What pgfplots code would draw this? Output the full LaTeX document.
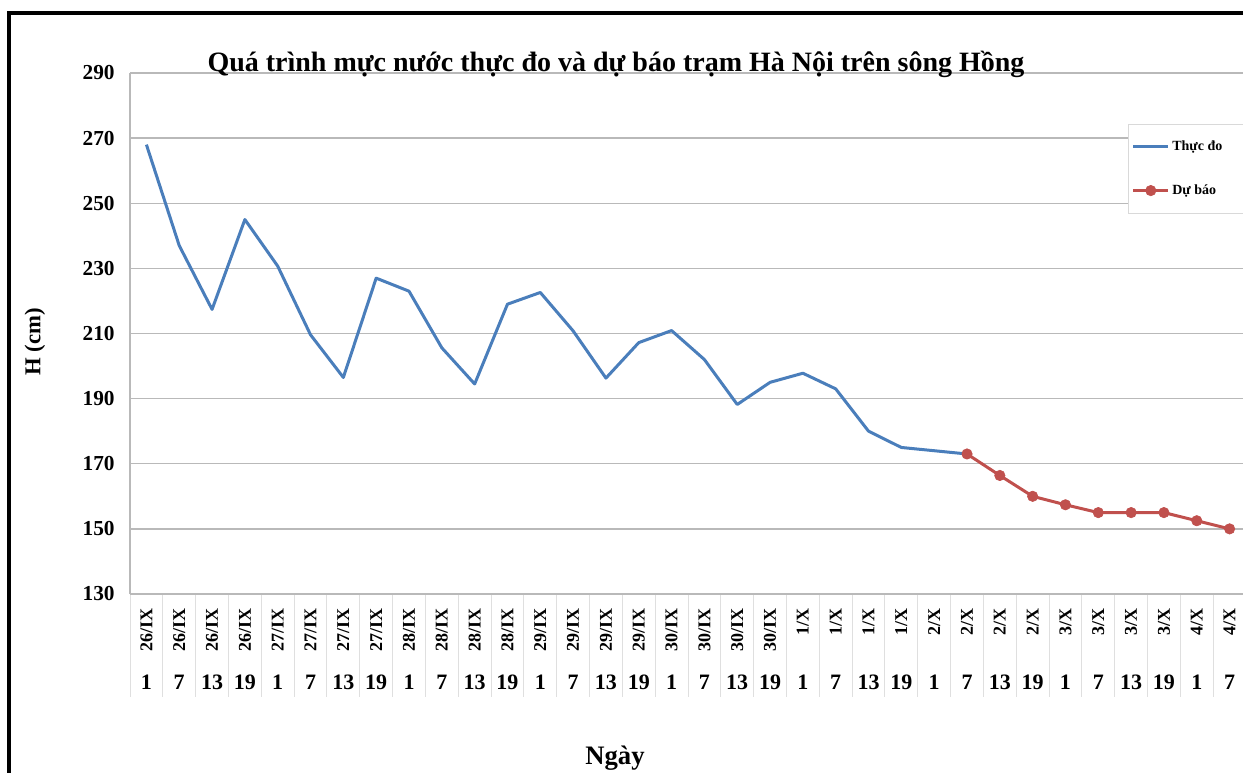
\documentclass[border=0pt]{standalone}
\usepackage{fontspec}
\setmainfont{Liberation Serif}
\usepackage{pgfplots}
\pgfplotsset{compat=1.18}
\definecolor{blueS}{RGB}{74,126,187}
\definecolor{redS}{RGB}{192,80,77}
\definecolor{gridG}{RGB}{185,185,185}
\pgfplotsset{
  legline/.style={legend image code/.code={\draw[##1] (0pt,0pt) -- (26pt,0pt);}},
  legmark/.style={legend image code/.code={\draw[##1, mark=none] (0pt,0pt) -- (26pt,0pt); \draw[##1] plot coordinates {(13pt,0pt)};}}
}
\newcommand{\tl}[2]{\rotatebox{90}{\makebox[36pt][r]{\fontsize{13.5}{13.5}\selectfont #1}}\\[8pt]#2}
\begin{document}
\begin{tikzpicture}
\useasboundingbox (0,0) rectangle (932.25pt,579pt);
\begin{axis}[
  at={(97.5pt,133.5pt)}, anchor=south west,
  scale only axis, width=837pt, height=390.75pt,
  xmin=-0.5, xmax=33.5, ymin=130, ymax=290,
  ytick={130,150,...,290},
  ymajorgrids, grid style={draw=gridG, line width=1pt},
  axis x line*=bottom, axis y line*=left,
  axis line style={draw=gridG, line width=1pt, -},
  xtick={0,...,33},
  xticklabels={\tl{26/IX}{1},\tl{26/IX}{7},\tl{26/IX}{13},\tl{26/IX}{19},
    \tl{27/IX}{1},\tl{27/IX}{7},\tl{27/IX}{13},\tl{27/IX}{19},
    \tl{28/IX}{1},\tl{28/IX}{7},\tl{28/IX}{13},\tl{28/IX}{19},
    \tl{29/IX}{1},\tl{29/IX}{7},\tl{29/IX}{13},\tl{29/IX}{19},
    \tl{30/IX}{1},\tl{30/IX}{7},\tl{30/IX}{13},\tl{30/IX}{19},
    \tl{1/X}{1},\tl{1/X}{7},\tl{1/X}{13},\tl{1/X}{19},
    \tl{2/X}{1},\tl{2/X}{7},\tl{2/X}{13},\tl{2/X}{19},
    \tl{3/X}{1},\tl{3/X}{7},\tl{3/X}{13},\tl{3/X}{19},
    \tl{4/X}{1},\tl{4/X}{7}},
  xticklabel style={align=center, anchor=north, yshift=-7.5pt, font=\fontsize{16.5}{16.5}\selectfont\bfseries},
  yticklabel style={font=\fontsize{16}{16}\selectfont\bfseries, xshift=-8pt},
  /pgf/number format/assume math mode=true,
  minor xtick={-0.5,0.5,...,33.5},
  tick align=outside, major tick length=0pt, minor tick length=77pt,
  minor tick style={draw=gray!25, line width=0.75pt},
  legend style={at={(0.894,0.902)}, anchor=north west, draw=gray!30, fill=white,
    font=\fontsize{10.5}{10.5}\selectfont\bfseries, row sep=20pt, inner ysep=10.5pt, inner xsep=3pt},
  legend cell align=left,
  clip=true,
]
\addplot[blueS, line width=2.25pt, line join=round, legline]
  coordinates {(0,268) (1,237) (2,217.4) (3,245) (4,230.7) (5,209.6) (6,196.5) (7,227) (8,223) (9,205.6) (10,194.5)
  (11,219) (12,222.6) (13,210.8) (14,196.3) (15,207.2) (16,210.9) (17,202) (18,188.2) (19,195) (20,197.8) (21,193)
  (22,180) (23,175) (24,174) (25,173)};
\addlegendentry{\makebox[62pt][l]{Thực đo}}
\addplot[redS, line width=2.25pt, line join=round, mark=*, mark size=3.9pt, mark options={fill=redS, draw=redS, line width=0.5pt}, legmark]
  coordinates {(25,173) (26,166.4) (27,160) (28,157.4) (29,155) (30,155) (31,155) (32,152.5) (33,150)};
\addlegendentry{\makebox[62pt][l]{Dự báo}}
\end{axis}
\begin{scope}[x=0.75pt,y=0.75pt]
\node[font=\fontsize{21}{21}\selectfont\bfseries, anchor=base] at (616,700) {Quá trình mực nước thực đo và dự báo trạm Hà Nội trên sông Hồng};
\node[font=\fontsize{20}{20}\selectfont\bfseries, anchor=base] at (615,8) {Ngày};
\node[font=\fontsize{17}{17}\selectfont\bfseries, rotate=90] at (35,430) {H (cm)};
\draw[line width=2.4pt] (9,-30) rectangle (1290,759);
\end{scope}
\end{tikzpicture}
\end{document}
